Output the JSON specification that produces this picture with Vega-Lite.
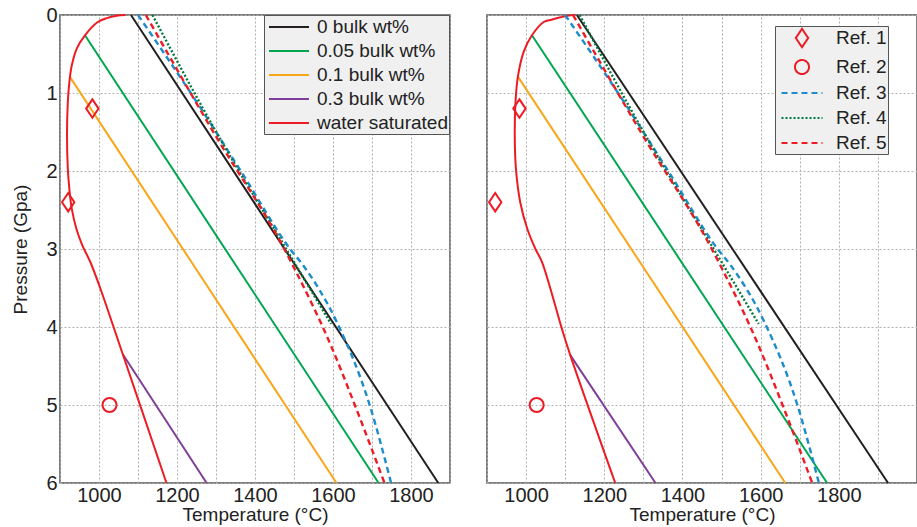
{
  "$schema": "https://vega.github.io/schema/vega-lite/v6.json",
  "background": "white",
  "padding": {"left": 11, "top": 4, "right": 0, "bottom": 0},
  "config": {
    "font": "Liberation Sans",
    "view": {"stroke": "#555555", "strokeWidth": 1.5},
    "axis": {
      "labelFont": "Liberation Sans", "labelFontSize": 20, "labelColor": "#222222",
      "titleFont": "Liberation Sans", "titleFontSize": 19, "titleFontWeight": "normal", "titleColor": "#222222",
      "grid": true, "gridColor": "#b0b0b0", "gridDash": [2, 2], "gridWidth": 1,
      "ticks": false, "domain": false, "labelFlush": false, "labelOverlap": false
    },
    "legend": {
      "labelFont": "Liberation Sans", "labelFontSize": 19, "labelColor": "#222222",
      "fillColor": "#f0f0f0", "strokeColor": "#555555", "orient": "none"
    }
  },
  "datasets": {
    "leftModels": [
      {"model": "0 bulk wt%", "T": 1082, "P": 0}, {"model": "0 bulk wt%", "T": 1870, "P": 6},
      {"model": "0.05 bulk wt%", "T": 964, "P": 0.26}, {"model": "0.05 bulk wt%", "T": 1717, "P": 6},
      {"model": "0.1 bulk wt%", "T": 925, "P": 0.79}, {"model": "0.1 bulk wt%", "T": 1609, "P": 6},
      {"model": "0.3 bulk wt%", "T": 1061, "P": 4.35}, {"model": "0.3 bulk wt%", "T": 1276, "P": 6},
      {"model": "water saturated", "T": 1068, "P": 0},
      {"model": "water saturated", "T": 1045, "P": 0.01},
      {"model": "water saturated", "T": 1020, "P": 0.04},
      {"model": "water saturated", "T": 997, "P": 0.09},
      {"model": "water saturated", "T": 964, "P": 0.26},
      {"model": "water saturated", "T": 943, "P": 0.43},
      {"model": "water saturated", "T": 930, "P": 0.65},
      {"model": "water saturated", "T": 924, "P": 0.86},
      {"model": "water saturated", "T": 920, "P": 1.12},
      {"model": "water saturated", "T": 918, "P": 1.54},
      {"model": "water saturated", "T": 920, "P": 1.97},
      {"model": "water saturated", "T": 924, "P": 2.23},
      {"model": "water saturated", "T": 930, "P": 2.48},
      {"model": "water saturated", "T": 942, "P": 2.74},
      {"model": "water saturated", "T": 957, "P": 2.95},
      {"model": "water saturated", "T": 978, "P": 3.17},
      {"model": "water saturated", "T": 1003, "P": 3.5},
      {"model": "water saturated", "T": 1061, "P": 4.35},
      {"model": "water saturated", "T": 1173, "P": 6}
    ],
    "rightModels": [
      {"model": "0 bulk wt%", "T": 1130, "P": 0}, {"model": "0 bulk wt%", "T": 1926, "P": 6},
      {"model": "0.05 bulk wt%", "T": 1015, "P": 0.26}, {"model": "0.05 bulk wt%", "T": 1770, "P": 6},
      {"model": "0.1 bulk wt%", "T": 979, "P": 0.79}, {"model": "0.1 bulk wt%", "T": 1663, "P": 6},
      {"model": "0.3 bulk wt%", "T": 1113, "P": 4.36}, {"model": "0.3 bulk wt%", "T": 1331, "P": 6},
      {"model": "water saturated", "T": 1126, "P": 0},
      {"model": "water saturated", "T": 1105, "P": 0.01},
      {"model": "water saturated", "T": 1088, "P": 0.03},
      {"model": "water saturated", "T": 1065, "P": 0.06},
      {"model": "water saturated", "T": 1045, "P": 0.09},
      {"model": "water saturated", "T": 1015, "P": 0.26},
      {"model": "water saturated", "T": 994, "P": 0.47},
      {"model": "water saturated", "T": 979, "P": 0.79},
      {"model": "water saturated", "T": 973, "P": 1.11},
      {"model": "water saturated", "T": 971, "P": 1.54},
      {"model": "water saturated", "T": 974, "P": 1.97},
      {"model": "water saturated", "T": 985, "P": 2.4},
      {"model": "water saturated", "T": 1003, "P": 2.74},
      {"model": "water saturated", "T": 1024, "P": 3.0},
      {"model": "water saturated", "T": 1041, "P": 3.17},
      {"model": "water saturated", "T": 1092, "P": 4.03},
      {"model": "water saturated", "T": 1113, "P": 4.36},
      {"model": "water saturated", "T": 1228, "P": 6}
    ],
    "refPoints": [
      {"ref": "Ref. 1", "T": 983, "P": 1.2},
      {"ref": "Ref. 1", "T": 921, "P": 2.4},
      {"ref": "Ref. 2", "T": 1027, "P": 5.0}
    ],
    "refLines": [
      {"ref": "Ref. 3", "T": 1100, "P": 0},
      {"ref": "Ref. 3", "T": 1255, "P": 1.15},
      {"ref": "Ref. 3", "T": 1371, "P": 2.06},
      {"ref": "Ref. 3", "T": 1490, "P": 3.0},
      {"ref": "Ref. 3", "T": 1522, "P": 3.2},
      {"ref": "Ref. 3", "T": 1610, "P": 3.94},
      {"ref": "Ref. 3", "T": 1694, "P": 5.0},
      {"ref": "Ref. 3", "T": 1749, "P": 6},
      {"ref": "Ref. 4", "T": 1137, "P": 0},
      {"ref": "Ref. 4", "T": 1305, "P": 1.54},
      {"ref": "Ref. 4", "T": 1480, "P": 3.0},
      {"ref": "Ref. 4", "T": 1595, "P": 3.96},
      {"ref": "Ref. 5", "T": 1120, "P": 0},
      {"ref": "Ref. 5", "T": 1298, "P": 1.54},
      {"ref": "Ref. 5", "T": 1473, "P": 2.98},
      {"ref": "Ref. 5", "T": 1499, "P": 3.23},
      {"ref": "Ref. 5", "T": 1594, "P": 4.23},
      {"ref": "Ref. 5", "T": 1656, "P": 5.0},
      {"ref": "Ref. 5", "T": 1732, "P": 6}
    ]
  },
  "spacing": 33,
  "resolve": {
    "scale": {"x": "independent", "y": "independent", "color": "independent", "stroke": "independent", "shape": "independent", "strokeDash": "independent"},
    "legend": {"color": "independent", "stroke": "independent", "shape": "independent", "strokeDash": "independent"}
  },
  "hconcat": [
    {
      "width": 390,
      "height": 468,
      "encoding": {
        "x": {"field": "T", "type": "quantitative", "scale": {"domain": [900, 1900], "nice": false, "zero": false},
              "axis": {"title": "Temperature (°C)", "values": [900, 1000, 1100, 1200, 1300, 1400, 1500, 1600, 1700, 1800, 1900], "format": "d",
                       "labelExpr": "datum.value % 200 == 0 && datum.value > 900 && datum.value < 1900 ? datum.label : ''", "labelPadding": 2, "titlePadding": 0}},
        "y": {"field": "P", "type": "quantitative", "scale": {"domain": [0, 6], "reverse": true, "nice": false, "zero": false},
              "axis": {"title": "Pressure (Gpa)", "values": [0, 1, 2, 3, 4, 5, 6], "format": "d", "labelPadding": 3, "titlePadding": 15}},
        "order": {"field": "P", "type": "quantitative"}
      },
      "layer": [
        {
          "data": {"name": "leftModels"},
          "mark": {"type": "line", "strokeWidth": 2, "interpolate": "catmull-rom"},
          "encoding": {
            "color": {"field": "model", "type": "nominal",
              "scale": {"domain": ["0 bulk wt%", "0.05 bulk wt%", "0.1 bulk wt%", "0.3 bulk wt%", "water saturated"],
                        "range": ["#231f20", "#00a650", "#f9a61a", "#7f3f98", "#ed1c24"]},
              "legend": {"title": null, "legendX": 204, "legendY": 0, "symbolType": "M-2,0L2,0", "symbolSize": 400, "symbolStrokeWidth": 2,
                         "padding": 1, "symbolOffset": 13, "labelOffset": 17, "rowPadding": 3}}
          }
        },
        {
          "data": {"name": "refLines"},
          "mark": {"type": "line", "strokeWidth": 2.4, "interpolate": "monotone"},
          "encoding": {
            "stroke": {"field": "ref", "type": "nominal",
              "scale": {"domain": ["Ref. 1", "Ref. 2", "Ref. 3", "Ref. 4", "Ref. 5"], "range": ["#ed1c24", "#ed1c24", "#1c8ccc", "#007a3d", "#ed1c24"]},
              "legend": null},
            "strokeDash": {"field": "ref", "type": "nominal",
              "scale": {"domain": ["Ref. 1", "Ref. 2", "Ref. 3", "Ref. 4", "Ref. 5"], "range": [[1, 0], [1, 0], [6, 4], [2, 2], [6, 4]]},
              "legend": null}
          }
        },
        {
          "data": {"name": "refPoints"},
          "mark": {"type": "point", "filled": false, "strokeWidth": 2, "size": 400, "opacity": 1},
          "encoding": {
            "stroke": {"field": "ref", "type": "nominal",
              "scale": {"domain": ["Ref. 1", "Ref. 2", "Ref. 3", "Ref. 4", "Ref. 5"], "range": ["#ed1c24", "#ed1c24", "#1c8ccc", "#007a3d", "#ed1c24"]},
              "legend": null},
            "shape": {"field": "ref", "type": "nominal",
              "scale": {"domain": ["Ref. 1", "Ref. 2", "Ref. 3", "Ref. 4", "Ref. 5"],
                        "range": ["M0,-0.92L0.62,0L0,0.92L-0.62,0Z", "M0.7,0A0.7,0.7,0,1,1,-0.7,0A0.7,0.7,0,1,1,0.7,0Z", "M-2.05,0L2.05,0", "M-2.05,0L2.05,0", "M-2.05,0L2.05,0"]},
              "legend": null}
          }
        }
      ]
    },
    {
      "width": 430,
      "height": 468,
      "encoding": {
        "x": {"field": "T", "type": "quantitative", "scale": {"domain": [900, 2000], "nice": false, "zero": false},
              "axis": {"title": "Temperature (°C)", "values": [900, 1000, 1100, 1200, 1300, 1400, 1500, 1600, 1700, 1800, 1900, 2000], "format": "d",
                       "labelExpr": "datum.value % 200 == 0 && datum.value > 900 && datum.value < 1900 ? datum.label : ''", "labelPadding": 2, "titlePadding": 0}},
        "y": {"field": "P", "type": "quantitative", "scale": {"domain": [0, 6], "reverse": true, "nice": false, "zero": false},
              "axis": {"title": null, "values": [0, 1, 2, 3, 4, 5, 6], "labels": false}},
        "order": {"field": "P", "type": "quantitative"}
      },
      "layer": [
        {
          "data": {"name": "rightModels"},
          "mark": {"type": "line", "strokeWidth": 2, "interpolate": "catmull-rom"},
          "encoding": {
            "stroke": {"field": "model", "type": "nominal",
              "scale": {"domain": ["0 bulk wt%", "0.05 bulk wt%", "0.1 bulk wt%", "0.3 bulk wt%", "water saturated"],
                        "range": ["#231f20", "#00a650", "#f9a61a", "#7f3f98", "#ed1c24"]},
              "legend": null}
          }
        },
        {
          "data": {"name": "refLines"},
          "mark": {"type": "line", "strokeWidth": 2.4, "interpolate": "monotone"},
          "encoding": {
            "color": {"field": "ref", "type": "nominal",
              "scale": {"domain": ["Ref. 1", "Ref. 2", "Ref. 3", "Ref. 4", "Ref. 5"], "range": ["#ed1c24", "#ed1c24", "#1c8ccc", "#007a3d", "#ed1c24"]},
              "legend": {"title": null, "legendX": 288, "legendY": 11, "symbolSize": 400, "symbolStrokeWidth": 2, "symbolFillColor": "transparent",
                         "padding": 1, "symbolOffset": 15, "labelOffset": 23, "rowPadding": 4, "labelExpr": "datum.label + '    '"}},
            "strokeDash": {"field": "ref", "type": "nominal",
              "scale": {"domain": ["Ref. 1", "Ref. 2", "Ref. 3", "Ref. 4", "Ref. 5"], "range": [[1, 0], [1, 0], [6, 4], [2, 2], [6, 4]]},
              "legend": {"title": null, "legendX": 288, "legendY": 11, "symbolSize": 400, "symbolStrokeWidth": 2, "symbolFillColor": "transparent",
                         "padding": 1, "symbolOffset": 15, "labelOffset": 23, "rowPadding": 4, "labelExpr": "datum.label + '    '"}}
          }
        },
        {
          "data": {"name": "refPoints"},
          "mark": {"type": "point", "filled": false, "strokeWidth": 2, "size": 400, "opacity": 1},
          "encoding": {
            "color": {"field": "ref", "type": "nominal",
              "scale": {"domain": ["Ref. 1", "Ref. 2", "Ref. 3", "Ref. 4", "Ref. 5"], "range": ["#ed1c24", "#ed1c24", "#1c8ccc", "#007a3d", "#ed1c24"]},
              "legend": {"title": null, "legendX": 288, "legendY": 11, "symbolSize": 400, "symbolStrokeWidth": 2, "symbolFillColor": "transparent",
                         "padding": 1, "symbolOffset": 15, "labelOffset": 23, "rowPadding": 4, "labelExpr": "datum.label + '    '"}},
            "shape": {"field": "ref", "type": "nominal",
              "scale": {"domain": ["Ref. 1", "Ref. 2", "Ref. 3", "Ref. 4", "Ref. 5"],
                        "range": ["M0,-0.92L0.62,0L0,0.92L-0.62,0Z", "M0.7,0A0.7,0.7,0,1,1,-0.7,0A0.7,0.7,0,1,1,0.7,0Z", "M-2.05,0L2.05,0", "M-2.05,0L2.05,0", "M-2.05,0L2.05,0"]},
              "legend": {"title": null, "legendX": 288, "legendY": 11, "symbolSize": 400, "symbolStrokeWidth": 2, "symbolFillColor": "transparent",
                         "padding": 1, "symbolOffset": 15, "labelOffset": 23, "rowPadding": 4, "labelExpr": "datum.label + '    '"}}
          }
        }
      ]
    }
  ]
}
